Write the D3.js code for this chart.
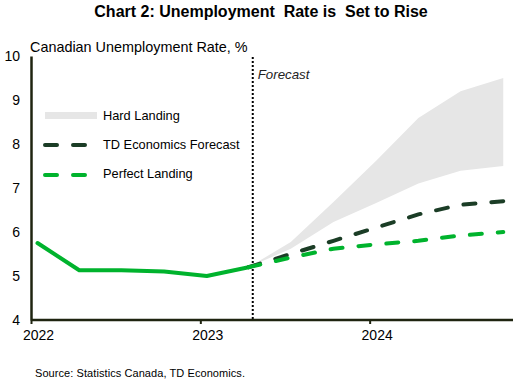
<!DOCTYPE html>
<html><head><meta charset="utf-8">
<script src="https://cdn.jsdelivr.net/npm/d3@7"></script>
<style>body{margin:0;background:#fff}svg{display:block;font-family:"Liberation Sans",Arial,sans-serif}</style>
</head><body><svg id="c" width="517" height="386"></svg>
<script>
const actualDates = ["2022-01-15","2022-04-15","2022-07-15","2022-10-15","2023-01-15","2023-04-15"];
const actualValues = [5.75,5.13,5.13,5.1,5.0,5.2];
const forecastDates = ["2023-04-15","2023-07-15","2023-10-15","2024-01-15","2024-04-15","2024-07-15","2024-10-15"];
const tdForecast = [5.2,5.5,5.8,6.1,6.4,6.62,6.7];
const perfectLanding = [5.2,5.42,5.62,5.72,5.8,5.92,6.0];
const hardLow = [5.2,5.62,6.23,6.66,7.1,7.39,7.5];
const hardHigh = [5.2,5.77,6.68,7.62,8.59,9.2,9.5];
const yTicks = [4,5,6,7,8,9,10];
const xTickYears = ["2022","2023","2024"];
const forecastStart = "2023-04-24";

const parse = d3.utcParse("%Y-%m-%d");
const svg = d3.select("#c");
const x = d3.scaleUtc().domain([parse("2022-01-01"), parse("2024-11-05")]).range([31, 513]);
const y = d3.scaleLinear().domain([4,10]).range([320,56]);
const green = "#00b32d", dark = "#1b3d26", gray = "#e6e6e6", axisC = "#1f2410";

// title
svg.append("text").attr("x",261).attr("y",17).attr("text-anchor","middle")
  .attr("font-size",16).attr("font-weight","bold").attr("fill","#000")
  .style("white-space","pre").text("Chart 2: Unemployment  Rate is  Set to Rise");
svg.append("text").attr("x",30).attr("y",52).attr("font-size",14.4).attr("fill","#000")
  .text("Canadian Unemployment Rate, %");

// hard landing band
const fc = forecastDates.map((d,i)=>({d:parse(d),lo:hardLow[i],hi:hardHigh[i],td:tdForecast[i],pl:perfectLanding[i]}));
svg.append("path").datum(fc).attr("fill",gray)
  .attr("d",d3.area().x(d=>x(d.d)).y0(d=>y(d.lo)).y1(d=>y(d.hi)));

// forecast divider
const fx = x(parse(forecastStart));
svg.append("line").attr("x1",fx).attr("x2",fx).attr("y1",57).attr("y2",320)
  .attr("stroke","#000").attr("stroke-width",2).attr("stroke-dasharray","2,2");
svg.append("text").attr("x",fx+5).attr("y",79).attr("font-size",13.3).attr("font-style","italic").attr("fill","#222").text("Forecast");

// lines
const act = actualDates.map((d,i)=>({d:parse(d),v:actualValues[i]}));
svg.append("path").datum(act).attr("fill","none").attr("stroke",green).attr("stroke-width",4)
  .attr("stroke-linejoin","round").attr("stroke-linecap","round")
  .attr("d",d3.line().x(d=>x(d.d)).y(d=>y(d.v)));
svg.append("path").datum(fc).attr("fill","none").attr("stroke",dark).attr("stroke-width",4)
  .attr("stroke-linecap","round").attr("stroke-dasharray","12,16")
  .attr("d",d3.line().x(d=>x(d.d)).y(d=>y(d.td)));
svg.append("path").datum(fc).attr("fill","none").attr("stroke",green).attr("stroke-width",4)
  .attr("stroke-linecap","round").attr("stroke-dasharray","12,16")
  .attr("d",d3.line().x(d=>x(d.d)).y(d=>y(d.pl)));

// axes
const ya = svg.append("g").attr("transform","translate(31,0)")
  .call(d3.axisLeft(y).tickValues(yTicks).tickSize(0).tickPadding(11).tickFormat(d3.format("d")));
ya.select(".domain").attr("stroke",axisC).attr("stroke-width",2.5);
ya.selectAll("text").attr("font-size",14).attr("fill","#000").attr("font-family","Liberation Sans, Arial, sans-serif");
const xa = svg.append("g").attr("transform","translate(0,320)")
  .call(d3.axisBottom(x).tickValues(xTickYears.map(s=>parse(s+"-01-01"))).tickSize(4).tickPadding(6).tickFormat(d3.utcFormat("%Y")));
xa.select(".domain").attr("stroke",axisC).attr("stroke-width",2.5).attr("d","M31,0H513");
xa.selectAll(".tick line").attr("stroke",axisC).attr("stroke-width",2);
xa.selectAll("text").attr("font-size",14).attr("fill","#000").attr("dx",7).attr("font-family","Liberation Sans, Arial, sans-serif");

// legend
const lg = svg.append("g");
lg.append("rect").attr("x",45).attr("y",112).attr("width",52).attr("height",7).attr("fill",gray);
lg.append("text").attr("x",103).attr("y",120).attr("font-size",12.8).text("Hard Landing");
lg.append("line").attr("x1",45).attr("x2",88).attr("y1",145).attr("y2",145).attr("stroke",dark)
  .attr("stroke-width",4).attr("stroke-linecap","round").attr("stroke-dasharray","12,16");
lg.append("text").attr("x",103).attr("y",149).attr("font-size",12.8).text("TD Economics Forecast");
lg.append("line").attr("x1",45).attr("x2",88).attr("y1",175).attr("y2",175).attr("stroke",green)
  .attr("stroke-width",4).attr("stroke-linecap","round").attr("stroke-dasharray","12,16");
lg.append("text").attr("x",103).attr("y",178).attr("font-size",12.8).text("Perfect Landing");

svg.append("text").attr("x",35).attr("y",377).attr("font-size",11)
  .attr("textLength",210).attr("lengthAdjust","spacing")
  .text("Source: Statistics Canada, TD Economics.");
</script></body></html>
